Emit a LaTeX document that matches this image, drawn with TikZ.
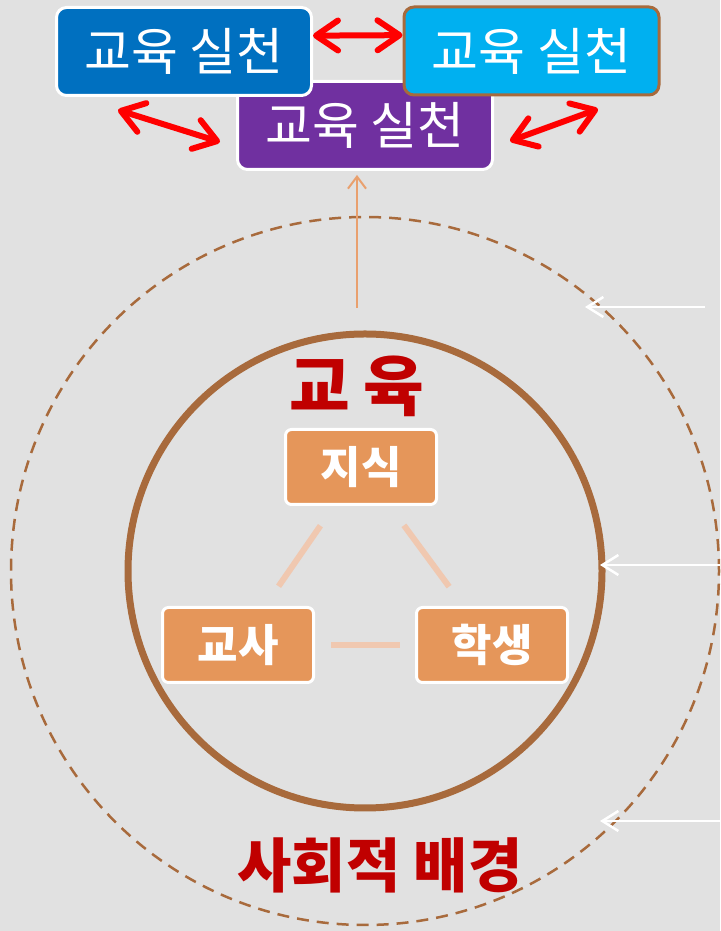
\documentclass[tikz,border=0pt]{standalone}
\usepackage{fontspec}
\newfontfamily\krfont{Noto Sans CJK KR}
\usetikzlibrary{arrows.meta}

\begin{document}
\begin{tikzpicture}[x=1pt,y=1pt,
  practice/.style={draw=white,line width=3pt,rounded corners=10pt,
    minimum width=255pt,minimum height=88pt,inner sep=0pt,text=white,
    font=\krfont\fontsize{51}{55}\selectfont},
  element/.style={draw=white,line width=3pt,rounded corners=6pt,fill=boxOrange,
    minimum width=151pt,minimum height=75pt,inner sep=0pt,text=white,
    font=\krfont\bfseries\fontsize{44}{48}\selectfont},
  title/.style={text=darkRed,inner sep=0pt,font=\krfont\bfseries\fontsize{59}{63}\selectfont},
  redlink/.style={draw=red,line width=6pt,line cap=round,line join=round,
    {Straight Barb[length=22pt,width=30pt,line width=6pt,round]}-{Straight Barb[length=22pt,width=30pt,line width=6pt,round]}},
  relation/.style={draw=lineOrange,line width=6pt},
  pointer/.style={draw=white,line width=2pt,-{Straight Barb[length=16pt,width=20pt,line width=2.5pt]}}]
\definecolor{bgColor}{RGB}{225,225,225}
\definecolor{darkBlue}{RGB}{0,112,192}
\definecolor{lightBlue}{RGB}{0,176,240}
\definecolor{purple}{RGB}{112,48,160}
\definecolor{brown}{RGB}{168,106,60}
\definecolor{boxOrange}{RGB}{229,150,90}
\definecolor{lineOrange}{RGB}{240,200,176}
\definecolor{arrowOrange}{RGB}{233,160,110}
\definecolor{darkRed}{RGB}{192,0,0}
\path[use as bounding box,fill=bgColor] (0,0) rectangle (720,931);

% circles
\path[draw=brown,line width=2.5pt,dash pattern=on 12pt off 8pt] (365,360) circle (354);
\path[draw=brown,line width=7pt] (365,360) circle (237);

% top boxes
\node[practice,fill=purple] (boxC) at (365,805.5) {교육 실천};
\node[practice,fill=darkBlue] (boxA) at (184,879.5) {교육 실천};
\node[practice,fill=lightBlue,draw=brown] (boxB) at (531.5,880) {교육 실천};

\coordinate (la1) at (118,821);
\coordinate (la2) at (220,789);
\coordinate (ra1) at (510,790);
\coordinate (ra2) at (598,822);
\path[redlink] (boxA.7) -- (boxB.173);
\path[redlink] (la1) -- (la2);
\path[redlink] (ra1) -- (ra2);

% center
\coordinate (core) at (357,623);
\path[draw=arrowOrange,line width=2pt,-{Straight Barb[length=12pt,width=18pt]},shorten >=4pt] (core) -- (boxC.south -| core);

\node[title,font=\krfont\bfseries\fontsize{66}{70}\selectfont] (edu) at (357,545) {교\hspace{14pt}육};
\node[element] (jisik) at (361,464) {지식};
\node[element] (gyosa) at (238,286) {교사};
\node[element] (haksaeng) at (492,286) {학생};

\path[relation,shorten <=24pt,shorten >=24pt] (jisik) -- (gyosa);
\path[relation,shorten <=24pt,shorten >=24pt] (jisik) -- (haksaeng);
\path[relation,shorten <=16pt,shorten >=15pt] (gyosa) -- (haksaeng);

\node[title] (society) at (380,66) {사회적 배경};

% pointers
\coordinate (p1) at (705,624);
\coordinate (q1) at (585,624);
\coordinate (p2) at (720,366);
\coordinate (q2) at (600,366);
\coordinate (p3) at (720,110);
\coordinate (q3) at (600,110);
\path[pointer] (p1) -- (q1);
\path[pointer] (p2) -- (q2);
\path[pointer] (p3) -- (q3);
\end{tikzpicture}
\end{document}
